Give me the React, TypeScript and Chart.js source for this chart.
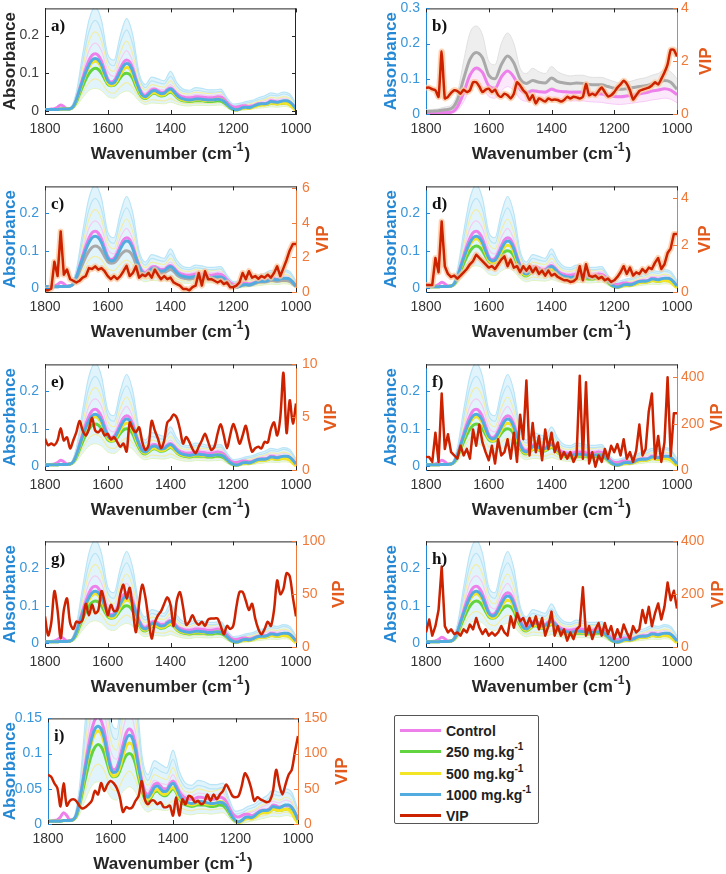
import React, { useEffect, useRef } from 'react';
import { Chart, registerables } from 'chart.js';
Chart.register(...registerables);
Chart.defaults.font.family = '"Liberation Sans", Arial, Helvetica, sans-serif';

// ---------- DATA ----------
const WN = [1800,1790,1780,1770,1760,1750,1740,1730,1720,1710,1700,1690,1680,1670,1660,1650,1640,1630,1620,1610,1600,1590,1580,1570,1560,1550,1540,1530,1520,1510,1500,1490,1480,1470,1460,1450,1440,1430,1420,1410,1400,1390,1380,1370,1360,1350,1340,1330,1320,1310,1300,1290,1280,1270,1260,1250,1240,1230,1220,1210,1200,1190,1180,1170,1160,1150,1140,1130,1120,1110,1100,1090,1080,1070,1060,1050,1040,1030,1020,1010,1000];
const WN20 = [1800,1780,1760,1740,1720,1700,1680,1660,1640,1620,1600,1580,1560,1540,1520,1500,1480,1460,1440,1420,1400,1380,1360,1340,1320,1300,1280,1260,1240,1220,1200,1180,1160,1140,1120,1100,1080,1060,1040,1020,1000];

const X_TICKS = [1800, 1600, 1400, 1200, 1000];
const ABS_TICKS = [0, 0.1, 0.2];
const ABS_TICKS_B = [0, 0.1, 0.2, 0.3];
const ABS_TICKS_I = [0, 0.05, 0.1, 0.15];

const ABS_1000 = [0.004,0.004,0.004,0.004,0.004,0.005,0.005,0.005,0.006,0.012,
 0.03,0.055,0.08,0.103,0.122,0.135,0.139,0.135,0.122,0.1,
 0.08,0.073,0.075,0.088,0.105,0.12,0.126,0.122,0.105,0.08,
 0.058,0.042,0.038,0.044,0.052,0.054,0.05,0.046,0.047,0.054,
 0.058,0.052,0.042,0.035,0.032,0.03,0.029,0.03,0.032,0.032,
 0.031,0.03,0.029,0.029,0.03,0.031,0.03,0.026,0.018,0.01,
 0.005,0.003,0.005,0.009,0.01,0.009,0.011,0.015,0.018,0.019,
 0.019,0.021,0.025,0.024,0.023,0.025,0.027,0.027,0.024,0.016,
 0.006];
const ABS_CONTROL = [0.004,0.004,0.005,0.006,0.01,0.016,0.012,0.006,0.006,0.012,
 0.03,0.058,0.086,0.112,0.134,0.148,0.152,0.147,0.132,0.108,
 0.085,0.077,0.08,0.094,0.113,0.129,0.135,0.13,0.112,0.085,
 0.062,0.046,0.042,0.048,0.056,0.058,0.054,0.05,0.05,0.057,
 0.061,0.055,0.046,0.04,0.037,0.035,0.035,0.036,0.038,0.038,
 0.037,0.036,0.035,0.035,0.036,0.038,0.037,0.032,0.023,0.015,
 0.011,0.01,0.012,0.014,0.014,0.012,0.013,0.016,0.019,0.02,
 0.02,0.022,0.027,0.026,0.024,0.025,0.026,0.026,0.023,0.016,
 0.008];
const ABS_500 = [0.004,0.004,0.004,0.004,0.004,0.005,0.005,0.005,0.006,0.011,
 0.028,0.052,0.076,0.098,0.116,0.128,0.132,0.128,0.115,0.094,
 0.075,0.068,0.07,0.081,0.097,0.11,0.115,0.112,0.096,0.073,
 0.053,0.039,0.035,0.04,0.047,0.049,0.045,0.042,0.043,0.049,
 0.052,0.047,0.038,0.032,0.029,0.028,0.027,0.028,0.03,0.03,
 0.029,0.028,0.028,0.028,0.03,0.032,0.031,0.026,0.017,0.009,
 0.004,0.002,0.004,0.007,0.008,0.007,0.009,0.012,0.015,0.016,
 0.016,0.018,0.021,0.02,0.019,0.02,0.021,0.02,0.016,0.008,
 0.001];
const ABS_250 = [0.004,0.004,0.004,0.004,0.004,0.005,0.005,0.005,0.006,0.01,
 0.024,0.045,0.065,0.084,0.099,0.109,0.113,0.11,0.1,0.085,
 0.071,0.067,0.068,0.076,0.088,0.097,0.1,0.097,0.085,0.065,
 0.048,0.036,0.033,0.038,0.045,0.047,0.043,0.04,0.041,0.046,
 0.05,0.045,0.036,0.03,0.027,0.026,0.025,0.026,0.027,0.027,
 0.027,0.026,0.025,0.025,0.026,0.027,0.026,0.022,0.015,0.008,
 0.004,0.003,0.005,0.008,0.009,0.008,0.01,0.013,0.016,0.017,
 0.017,0.018,0.021,0.02,0.019,0.02,0.021,0.021,0.018,0.012,
 0.004];

const FAINT_1 = [0.004,0.004,0.006,0.006,0.008,0.05,0.15,0.24,0.275,0.24, 0.15,0.135,0.2,0.245,0.2,0.1,0.07,0.09,0.085,0.08, 0.105,0.075,0.058,0.055,0.062,0.06,0.056,0.056,0.058,0.035, 0.018,0.02,0.025,0.028,0.035,0.04,0.048,0.045,0.05,0.045, 0.02];
const FAINT_2 = [0.004,0.004,0.005,0.005,0.007,0.045,0.13,0.21,0.24,0.21, 0.135,0.12,0.18,0.215,0.175,0.09,0.062,0.08,0.075,0.072, 0.092,0.066,0.052,0.05,0.055,0.053,0.05,0.05,0.052,0.03, 0.014,0.016,0.021,0.024,0.03,0.034,0.042,0.04,0.045,0.04, 0.016];
const FAINT_3 = [0.004,0.004,0.005,0.005,0.006,0.04,0.115,0.185,0.21,0.185, 0.12,0.105,0.155,0.185,0.15,0.078,0.055,0.07,0.066,0.063, 0.08,0.058,0.046,0.045,0.05,0.048,0.046,0.048,0.05,0.027, 0.011,0.012,0.017,0.02,0.026,0.03,0.036,0.034,0.038,0.033, 0.01];
const FAINT_4 = [0.004,0.004,0.005,0.005,0.006,0.035,0.1,0.16,0.18,0.16, 0.105,0.092,0.135,0.16,0.13,0.068,0.048,0.062,0.058,0.056, 0.07,0.051,0.041,0.04,0.044,0.043,0.041,0.042,0.044,0.024, 0.009,0.01,0.015,0.018,0.023,0.027,0.032,0.03,0.034,0.03, 0.009];
const FAINT_5 = [0.003,0.003,0.004,0.004,0.005,0.018,0.048,0.075,0.085,0.076, 0.052,0.047,0.064,0.075,0.062,0.035,0.024,0.03,0.028,0.027, 0.033,0.025,0.02,0.019,0.021,0.021,0.02,0.021,0.022,0.012, 0.003,0.003,0.006,0.008,0.011,0.013,0.016,0.015,0.017,0.014, 0.002];
const FAINT_6 = [0.003,0.003,0.003,0.003,0.004,0.013,0.035,0.054,0.06,0.054, 0.038,0.034,0.046,0.053,0.045,0.026,0.017,0.021,0.02,0.019, 0.023,0.018,0.014,0.013,0.015,0.015,0.014,0.015,0.016,0.008, 0.001,0.001,0.003,0.005,0.007,0.009,0.011,0.01,0.012,0.01, 0.001];

const B_GRAY_MEAN = [0.007,0.008,0.009,0.012,0.015,0.04,0.1,0.155,0.175,0.16, 0.11,0.1,0.14,0.165,0.145,0.1,0.087,0.095,0.09,0.088, 0.102,0.092,0.088,0.086,0.088,0.087,0.084,0.083,0.083,0.078, 0.073,0.07,0.072,0.075,0.078,0.08,0.085,0.088,0.095,0.09, 0.07];
const B_GRAY_TOP = [0.012,0.013,0.015,0.02,0.025,0.06,0.15,0.23,0.25,0.225, 0.15,0.14,0.2,0.23,0.2,0.13,0.115,0.13,0.12,0.115, 0.135,0.12,0.112,0.108,0.11,0.11,0.105,0.104,0.104,0.098, 0.092,0.088,0.09,0.095,0.1,0.103,0.11,0.115,0.125,0.12, 0.1];
const B_GRAY_LOW = [0.004,0.005,0.006,0.008,0.01,0.028,0.07,0.11,0.125,0.115, 0.08,0.07,0.1,0.12,0.105,0.075,0.065,0.07,0.067,0.065, 0.075,0.068,0.066,0.065,0.066,0.066,0.063,0.062,0.062,0.058, 0.055,0.052,0.054,0.056,0.058,0.06,0.064,0.066,0.07,0.066, 0.05];
const B_PINK_MEAN = [0.002,0.002,0.003,0.004,0.005,0.02,0.06,0.11,0.131,0.118, 0.08,0.073,0.105,0.122,0.105,0.07,0.06,0.066,0.063,0.062, 0.07,0.065,0.063,0.062,0.062,0.062,0.06,0.058,0.057,0.053, 0.05,0.049,0.051,0.054,0.057,0.06,0.065,0.068,0.072,0.068, 0.055];
const B_PINK_LOW = [0,0,0.001,0.001,0.002,0.01,0.035,0.07,0.085,0.075, 0.05,0.045,0.065,0.078,0.066,0.043,0.036,0.04,0.038,0.037, 0.043,0.04,0.038,0.037,0.037,0.037,0.035,0.034,0.033,0.03, 0.028,0.027,0.029,0.031,0.034,0.036,0.04,0.042,0.045,0.042, 0.032];

const VIP_B = [0.99,1.0,0.94,0.9,0.65,2.37,0.59,0.65,0.8,0.9,
 0.87,0.77,0.92,0.83,0.9,1.2,1.2,1.04,0.83,0.92,
 0.96,0.83,0.92,0.71,0.65,0.77,0.71,0.59,0.77,1.2,
 1.08,0.9,0.77,0.53,0.71,0.4,0.59,0.53,0.47,0.59,
 0.53,0.55,0.53,0.47,0.53,0.65,0.59,0.65,0.63,0.59,
 0.65,1.14,0.71,0.77,0.71,0.87,1.0,0.83,0.67,0.71,
 0.83,1.0,1.12,1.26,1.14,0.9,0.55,0.71,0.87,0.92,
 0.96,1.0,1.08,1.2,1.12,1.33,1.57,1.88,2.43,2.43,
 2.18];
const VIP_C = [0.1,0.1,0.2,1.75,0.92,3.5,1.0,1.3,0.74,0.65,
 0.55,0.65,0.83,0.92,1.38,1.33,1.48,1.29,1.38,1.2,
 0.92,0.74,0.92,0.74,0.92,1.2,1.51,0.92,1.1,1.48,
 0.83,1.0,0.92,1.1,0.83,1.29,1.0,0.74,0.92,0.74,
 0.83,0.55,0.46,0.37,0.18,0.18,0.1,0.28,0.37,1.1,
 0.37,1.2,0.74,0.74,0.65,0.55,0.65,0.46,0.55,0.28,
 0.28,0.37,0.55,1.1,0.74,1.2,0.83,0.92,0.77,0.92,
 0.83,1.0,0.83,1.1,1.48,0.92,1.38,1.85,2.4,2.77,
 2.77];
const VIP_D = [0.3,0.3,0.3,1.45,0.84,3.0,1.1,0.77,0.64,0.7,
 0.57,0.7,0.84,0.98,1.18,1.32,1.59,1.45,1.32,1.18,
 1.04,1.1,0.98,1.18,1.38,1.52,1.1,1.38,1.04,1.1,
 0.84,1.1,0.91,1.1,0.84,1.04,0.77,0.91,0.7,0.91,
 0.7,0.77,0.64,0.57,0.5,0.5,0.43,0.46,0.57,1.1,
 0.5,1.18,0.7,0.64,0.7,0.57,0.64,0.5,0.57,0.43,
 0.5,0.64,0.84,1.1,0.77,1.04,0.7,0.84,0.77,0.98,
 0.84,1.04,0.98,1.25,1.45,0.98,1.18,1.66,1.86,2.47,
 2.47];
const VIP_E = [2.97,2.35,2.5,2.35,2.8,3.95,2.8,3.1,2.05,2.8,
 3.58,4.65,3.74,3.27,3.88,4.95,3.74,3.58,3.88,3.27,
 3.43,2.9,3.12,2.66,2.2,2.5,1.74,4.5,3.88,3.58,
 4.04,2.66,1.9,2.35,4.65,3.74,2.97,2.05,2.8,4.5,
 4.8,5.26,4.95,3.88,2.5,3.12,2.66,1.99,1.59,2.2,
 2.8,3.43,2.66,1.9,2.2,3.43,4.34,3.27,2.05,3.27,
 4.34,3.58,2.5,3.27,4.19,2.8,1.74,2.05,2.2,2.05,
 2.66,2.6,3.88,4.5,3.27,5.0,9.2,3.5,6.6,4.4,
 6.3];
const VIP_F = [56,56,35,161,35,330,91,154,77,63,
 49,105,63,91,49,175,105,196,119,77,
 42,105,28,133,63,77,133,49,161,35,
 239,133,386,63,203,77,147,42,175,91,
 161,77,119,49,77,49,77,35,63,407,
 49,379,28,77,14,63,35,91,49,105,
 77,112,63,133,49,77,35,84,196,63,
 91,253,330,49,147,35,119,400,60,245,
 245];
const VIP_G = [29,11,23,53,35,8,35,46,23,17,
 24,23,26,41,30,40,32,35,53,43,
 30,40,34,35,50,59,46,56,35,14,
 41,59,47,26,8,23,30,34,41,47,
 40,20,44,52,38,21,24,30,24,21,
 24,20,26,27,27,27,20,12,20,17,
 20,38,52,52,44,35,41,27,17,12,
 17,24,20,35,63,50,55,70,67,47,
 29];
const VIP_H = [55,104,43,79,140,305,79,55,67,49,
 55,43,67,55,85,67,110,73,49,67,
 43,55,43,55,79,55,43,116,73,128,
 98,110,79,110,79,116,67,110,43,79,
 134,43,79,43,67,24,55,30,67,79,
 226,43,79,30,67,91,43,91,49,79,
 30,67,37,85,55,30,79,55,67,140,
 91,152,79,128,165,104,152,244,177,213,
 146];
const VIP_I = [70,67,58,51,25,58,26,33,35,33,
 26,22,24,28,33,47,42,58,47,56,
 61,58,51,38,17,24,22,24,33,40,
 61,35,28,33,33,28,31,24,24,26,
 12,38,12,35,28,40,38,31,33,28,
 31,42,33,42,35,42,47,56,49,40,
 38,40,54,72,65,51,33,38,35,33,
 31,33,47,77,56,42,56,70,77,102,
 125];

const VIP_TICKS_B = [0, 2, 4];
const VIP_TICKS_C = [0, 2, 4, 6];
const VIP_TICKS_D = [0, 2, 4];
const VIP_TICKS_E = [0, 5, 10];
const VIP_TICKS_F = [0, 200, 400];
const VIP_TICKS_G = [0, 50, 100];
const VIP_TICKS_H = [0, 200, 400];
const VIP_TICKS_I = [0, 50, 100, 150];

// ---------- STYLE ----------
const PINK = '#ee80ec';
const GREEN = '#62d440';
const YELLOW = '#f4e524';
const BLUE = '#52acdf';
const GRAY = '#a9a9a9';
const RED = '#cc2200';
const LBLUE = '#b9e5f7';
const LYELLOW = '#f2eea6';
const LPINK = '#f6cdf3';
const LGREEN = '#e2f3bd';
const AXBLUE = '#2588d4';
const AXORANGE = '#f07a3a';
const VIPTITLE = '#e35a1c';
const FONT = '"Liberation Sans", Arial, Helvetica, sans-serif';

const ROW_TOP = [4, 182, 360, 537, 714];
const PLOT_H = 110;
const PAD_TOP = 10;
const X_H = 50;
const CANVAS_H = PAD_TOP + PLOT_H + X_H;

type Spec = {
  id: string; col: number; row: number; style: string;
  absMin: number; absMax: number; absTicks: number[];
  vip?: number[]; vipMax?: number; vipTicks?: number[]; vipTension?: number; halo?: boolean;
  vipPad?: number; plotL?: number; plotR?: number;
};

const PANELS: Spec[] = [
  { id: 'a)', col: 0, row: 0, style: 'a', absMin: -0.008, absMax: 0.272, absTicks: ABS_TICKS },
  { id: 'b)', col: 1, row: 0, style: 'b', absMin: 0, absMax: 0.3, absTicks: ABS_TICKS_B, vip: VIP_B, vipMax: 4, vipTicks: VIP_TICKS_B, vipTension: 0.2, halo: true, vipPad: 20 },
  { id: 'c)', col: 0, row: 1, style: 'c', absMin: -0.01, absMax: 0.272, absTicks: ABS_TICKS, vip: VIP_C, vipMax: 6.1, vipTicks: VIP_TICKS_C, vipTension: 0, halo: true, vipPad: 37 },
  { id: 'd)', col: 1, row: 1, style: 'std', absMin: -0.01, absMax: 0.272, absTicks: ABS_TICKS, vip: VIP_D, vipMax: 4.5, vipTicks: VIP_TICKS_D, vipTension: 0, halo: true, vipPad: 21 },
  { id: 'e)', col: 0, row: 2, style: 'std', absMin: -0.01, absMax: 0.272, absTicks: ABS_TICKS, vip: VIP_E, vipMax: 10, vipTicks: VIP_TICKS_E, vipTension: 0.3, vipPad: 29 },
  { id: 'f)', col: 1, row: 2, style: 'std', absMin: -0.01, absMax: 0.272, absTicks: ABS_TICKS, vip: VIP_F, vipMax: 456, vipTicks: VIP_TICKS_F, vipTension: 0, vipPad: 9 },
  { id: 'g)', col: 0, row: 3, style: 'std', absMin: -0.01, absMax: 0.272, absTicks: ABS_TICKS, vip: VIP_G, vipMax: 100, vipTicks: VIP_TICKS_G, vipTension: 0.3, vipPad: 21 },
  { id: 'h)', col: 1, row: 3, style: 'std', absMin: -0.01, absMax: 0.272, absTicks: ABS_TICKS, vip: VIP_H, vipMax: 400, vipTicks: VIP_TICKS_H, vipTension: 0, vipPad: 8 },
  { id: 'i)', col: 0, row: 4, style: 'std', absMin: 0, absMax: 0.15, absTicks: ABS_TICKS_I, vip: VIP_I, vipMax: 150, vipTicks: VIP_TICKS_I, vipTension: 0.3, vipPad: 18, plotL: 48, plotR: 298 },
];

function geom(p: Spec) {
  const canvasL = p.col === 0 ? 0 : 363;
  const canvasW = p.col === 0 ? 360 : 363;
  const plotL = p.plotL ?? (p.col === 0 ? 45 : 426);
  const plotR = p.plotR ?? (p.col === 0 ? 296 : 677);
  return { canvasL, canvasW, yW: plotL - canvasL, y2W: canvasL + canvasW - plotR, top: ROW_TOP[p.row] - PAD_TOP };
}

const framePlugin = {
  id: 'frame',
  afterDraw(chart: any, _a: any, opts: any) {
    const { ctx, chartArea: a, width } = chart;
    ctx.save();
    ctx.lineWidth = 1;
    ctx.strokeStyle = '#262626';
    ctx.beginPath();
    ctx.moveTo(a.left, a.top + 0.5); ctx.lineTo(a.right, a.top + 0.5);
    if (opts.boxRight) { ctx.moveTo(a.right - 0.5, a.top); ctx.lineTo(a.right - 0.5, a.bottom); }
    const xs = chart.scales.x;
    xs.ticks.forEach((t: any) => {
      const px = Math.round(xs.getPixelForValue(t.value)) + 0.5;
      ctx.moveTo(px, a.bottom); ctx.lineTo(px, a.bottom - 4);
      ctx.moveTo(px, a.top); ctx.lineTo(px, a.top + 4);
    });
    ctx.stroke();
    const ys = chart.scales.y;
    ctx.strokeStyle = opts.leftColor;
    ctx.beginPath();
    ys.ticks.forEach((t: any) => {
      const py = Math.round(ys.getPixelForValue(t.value)) + 0.5;
      ctx.moveTo(a.left, py); ctx.lineTo(a.left + 4, py);
      if (opts.boxRight) { ctx.moveTo(a.right, py); ctx.lineTo(a.right - 4, py); }
    });
    ctx.stroke();
    const y2 = chart.scales.y2;
    if (y2) {
      ctx.strokeStyle = AXORANGE;
      ctx.beginPath();
      y2.ticks.forEach((t: any) => {
        const py = Math.round(y2.getPixelForValue(t.value)) + 0.5;
        ctx.moveTo(a.right, py); ctx.lineTo(a.right - 4, py);
      });
      ctx.stroke();
      // VIP title, reading bottom-to-top
      ctx.save();
      ctx.translate(width - opts.vipOffset, (a.top + a.bottom) / 2);
      ctx.rotate(-Math.PI / 2);
      ctx.font = 'bold 17px ' + FONT;
      ctx.fillStyle = VIPTITLE;
      ctx.textAlign = 'center';
      ctx.textBaseline = 'middle';
      ctx.fillText('VIP', 0, 0);
      ctx.restore();
    }
    // x-axis title with superscript
    const main = 'Wavenumber (cm';
    const sup = '-1';
    const close = ')';
    ctx.fillStyle = '#262626';
    ctx.textBaseline = 'alphabetic';
    ctx.textAlign = 'left';
    ctx.font = 'bold 17px ' + FONT;
    const w1 = ctx.measureText(main).width;
    const w3 = ctx.measureText(close).width;
    ctx.font = 'bold 12px ' + FONT;
    const w2 = ctx.measureText(sup).width;
    const cx = (a.left + a.right) / 2;
    const x0 = cx - (w1 + w2 + w3 + 2) / 2;
    const by = a.bottom + 45;
    ctx.font = 'bold 17px ' + FONT;
    ctx.fillText(main, x0, by);
    ctx.font = 'bold 12px ' + FONT;
    ctx.fillText(sup, x0 + w1 + 1, by - 8);
    ctx.font = 'bold 17px ' + FONT;
    ctx.fillText(close, x0 + w1 + w2 + 2, by);
    // panel label
    ctx.font = 'bold 17px "Liberation Serif", "Times New Roman", serif';
    ctx.fillStyle = '#111';
    ctx.fillText(opts.label, a.left + 6, a.top + 23);
    ctx.restore();
  },
};

function buildConfig(p: Spec) {
  const g = geom(p);
  const L = (xs: number[], ys: number[], color: string, width: number, order: number, extra: any = {}) => ({
    data: xs.map((x, i) => ({ x, y: ys[i] })),
    borderColor: color, backgroundColor: color, borderWidth: width,
    pointRadius: 0, pointHoverRadius: 0, fill: false, cubicInterpolationMode: 'monotone',
    order, yAxisID: 'y', clip: 0, borderJoinStyle: 'round', ...extra,
  });
  const ds: any[] = [];
  if (p.style === 'b') {
    ds.push(L(WN20, B_GRAY_LOW, 'rgba(215,215,215,0.9)', 1, 22));
    ds.push(L(WN20, B_GRAY_TOP, 'rgba(222,222,222,0.9)', 1, 31, { fill: { target: 0, above: 'rgba(226,226,226,0.6)', below: 'rgba(226,226,226,0.6)' } }));
    ds.push(L(WN20, B_PINK_LOW, 'rgba(246,200,246,0.9)', 1, 23));
    ds.push(L(WN20, B_GRAY_LOW, 'rgba(0,0,0,0)', 0, 30, { fill: { target: 2, above: 'rgba(246,205,246,0.45)', below: 'rgba(246,205,246,0.45)' } }));
    ds.push(L(WN20, B_PINK_MEAN, PINK, 3, 5));
    ds.push(L(WN20, B_GRAY_MEAN, GRAY, 3, 4));
  } else {
    ds.push(L(WN20, FAINT_6, LGREEN, 1, 20));
    ds.push(L(WN20, FAINT_1, LBLUE, 1.2, 31, { fill: { target: 0, above: 'rgba(196,233,248,0.5)', below: 'rgba(196,233,248,0.5)' } }));
    ds.push(L(WN20, FAINT_2, LBLUE, 1.2, 21));
    ds.push(L(WN20, FAINT_3, LYELLOW, 1.2, 22));
    ds.push(L(WN20, FAINT_4, LPINK, 1.2, 23));
    ds.push(L(WN20, FAINT_5, LYELLOW, 1.2, 24));
    ds.push(L(WN, ABS_CONTROL, PINK, 3, 5));
    if (p.style === 'c') {
      ds.push(L(WN, ABS_250, GRAY, 3, 4));
    } else {
      ds.push(L(WN, ABS_250, GREEN, 3, 4));
      ds.push(L(WN, ABS_500, YELLOW, 3, 3));
    }
    ds.push(L(WN, ABS_1000, BLUE, 3, 2));
  }
  if (p.vip) {
    if (p.halo) ds.push(L(WN, p.vip, 'rgba(252,198,155,0.75)', 6, 1.5, { yAxisID: 'y2', tension: p.vipTension, cubicInterpolationMode: 'default' }));
    ds.push(L(WN, p.vip, RED, 2.5, 1, { yAxisID: 'y2', tension: p.vipTension, cubicInterpolationMode: 'default' }));
  }
  const isA = p.style === 'a';
  const leftColor = isA ? '#262626' : AXBLUE;
  const scales: any = {
    x: {
      type: 'linear', reverse: true, min: 1000, max: 1800,
      afterBuildTicks: (s: any) => { s.ticks = X_TICKS.map((v) => ({ value: v })); },
      afterFit: (s: any) => { s.height = X_H; },
      grid: { display: true, drawOnChartArea: false, drawTicks: false },
      border: { display: true, color: '#262626', width: 1 },
      ticks: { color: '#333', font: { size: 14 }, padding: 7, maxRotation: 0, autoSkip: false, callback: (v: any) => String(v) },
      title: { display: false },
    },
    y: {
      type: 'linear', position: 'left', min: p.absMin, max: p.absMax,
      afterBuildTicks: (s: any) => { s.ticks = p.absTicks.map((v) => ({ value: v })); },
      afterFit: (s: any) => { s.width = g.yW; },
      grid: { display: true, drawOnChartArea: false, drawTicks: false },
      border: { display: true, color: leftColor, width: 1 },
      ticks: { color: isA ? '#404040' : '#3996db', font: { size: 14 }, padding: 6, callback: (v: any) => String(v) },
      title: { display: true, text: 'Absorbance', color: isA ? '#262626' : AXBLUE, font: { size: 17, weight: 'bold' }, padding: { top: p.col === 0 ? 0 : 18, bottom: 0 } },
    },
  };
  if (p.vip) {
    scales.y2 = {
      type: 'linear', position: 'right', min: 0, max: p.vipMax,
      afterBuildTicks: (s: any) => { s.ticks = (p.vipTicks as number[]).map((v) => ({ value: v })); },
      afterFit: (s: any) => { s.width = g.y2W; },
      grid: { display: true, drawOnChartArea: false, drawTicks: false },
      border: { display: true, color: AXORANGE, width: 1 },
      ticks: { color: AXORANGE, font: { size: 14 }, padding: p.col === 0 ? 6 : 4, callback: (v: any) => String(v) },
      title: { display: false },
    };
  }
  return {
    type: 'line',
    data: { datasets: ds },
    plugins: [framePlugin],
    options: {
      responsive: false, animation: false, devicePixelRatio: 1, events: [],
      layout: { padding: { top: PAD_TOP, left: 0, right: isA ? g.y2W : 0, bottom: 0 } },
      scales,
      plugins: {
        legend: { display: false }, tooltip: { enabled: false },
        frame: { label: p.id, boxRight: isA, leftColor, vipOffset: p.vipPad ?? 10 },
      },
    },
  } as any;
}

function Panel({ spec }: { spec: Spec }) {
  const ref = useRef<HTMLCanvasElement>(null);
  const g = geom(spec);
  useEffect(() => {
    const chart = new Chart(ref.current as HTMLCanvasElement, buildConfig(spec));
    return () => chart.destroy();
  }, [spec]);
  return (
    <canvas ref={ref} width={g.canvasW} height={CANVAS_H}
      style={{ position: 'absolute', left: g.canvasL, top: g.top, width: g.canvasW, height: CANVAS_H }} />
  );
}

const LEGEND_ITEMS = [
  { color: PINK, text: 'Control', sup: '' },
  { color: GREEN, text: '250 mg.kg', sup: '-1' },
  { color: YELLOW, text: '500 mg.kg', sup: '-1' },
  { color: BLUE, text: '1000 mg.kg', sup: '-1' },
  { color: RED, text: 'VIP', sup: '' },
];

function Legend() {
  return (
    <div style={{ position: 'absolute', left: 394, top: 715, width: 143, height: 107, border: '1px solid #555', borderRadius: 2, background: '#fff', fontFamily: FONT }}>
      {LEGEND_ITEMS.map((it, i) => (
        <div key={i} style={{ position: 'absolute', left: 0, top: 4 + i * 21.3, height: 20, width: 143 }}>
          <div style={{ position: 'absolute', left: 5, top: 9, width: 41, height: 3, background: it.color }} />
          <div style={{ position: 'absolute', left: 51, top: 3, fontSize: 14, fontWeight: 'bold', color: '#222', whiteSpace: 'nowrap', lineHeight: '16px' }}>
            {it.text}{it.sup ? <sup style={{ fontSize: 10, verticalAlign: 'top', position: 'relative', top: -5 }}>{it.sup}</sup> : null}
          </div>
        </div>
      ))}
    </div>
  );
}

export default function App() {
  return (
    <div style={{ position: 'absolute', left: 0, top: 0, width: 726, height: 874, background: '#fff', overflow: 'hidden' }}>
      {PANELS.map((p) => <Panel key={p.id} spec={p} />)}
      <Legend />
    </div>
  );
}
